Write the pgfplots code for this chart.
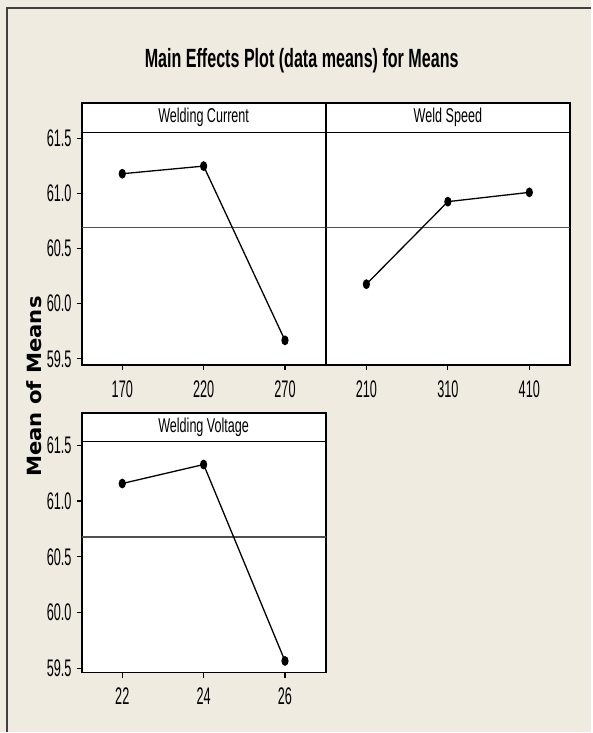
\documentclass[border=0pt]{standalone}
\usepackage{fontspec}
\setmainfont{Liberation Sans}[FakeStretch=0.53]
\newfontfamily\stripfont{Liberation Sans}[FakeStretch=0.63]
\newfontfamily\titlefont{Liberation Sans}[FakeStretch=0.61]
\newfontfamily\ylabfont{DejaVu Sans}[FakeStretch=1.08]
\usepackage{pgfplots}
\pgfplotsset{compat=1.18}
\definecolor{bgbeige}{RGB}{239,235,225}
\definecolor{meangray}{RGB}{80,80,80}

\pgfplotsset{
  mepanel/.style={
    scale only axis,
    anchor=south west,
    clip=false,
    axis background/.style={fill=white},
    axis line style={line width=0.9pt},
    xmin=-0.5, xmax=2.5,
    xtick={0,1,2},
    tick align=outside,
    major tick length=2.5pt,
    tick style={black, line width=0.6pt},
    xtick pos=bottom,
    ytick pos=left,
    ytick={59.5,60,60.5,61,61.5},
    /pgf/number format/assume math mode=true,
    /pgf/number format/fixed,
    /pgf/number format/fixed zerofill,
    /pgf/number format/precision=1,
    tick label style={font=\fontsize{12}{13}\selectfont},
    yticklabel style={xshift=1pt},
    xticklabel style={yshift=-1.5pt},
  },
  meline/.style={black, line width=0.65pt, mark=*, mark size=2.1pt,
    mark options={xscale=0.7, fill=black, solid}},
  meanline/.style={meangray, line width=0.8pt, no marks},
}

\begin{document}
\begin{tikzpicture}
\fill[bgbeige] (0,0) rectangle (296pt,366.5pt);
\draw[black!75, line width=0.8pt] (3.5pt,0) -- (3.5pt,362.5pt) -- (296pt,362.5pt);

\node[font=\titlefont\bfseries\fontsize{13.2}{15}\selectfont] at (151pt,336pt) {Main Effects Plot (data means) for Means};

\node[rotate=90, font=\ylabfont\bfseries\fontsize{9.8}{12}\selectfont] at (17.3pt,173pt) {Mean of Means};

% Panel 1: Welding Current
\begin{axis}[mepanel, at={(40.85pt,183.65pt)}, width=122.15pt, height=116.5pt,
  ymin=59.442, ymax=61.551, xticklabels={170,220,270}]
\addplot[meanline] coordinates {(-0.5,60.69) (2.5,60.69)};
\addplot[meline] coordinates {(0,61.178) (1,61.247) (2,59.668)};
\draw[fill=white, line width=0.9pt] (rel axis cs:0,1) rectangle ([yshift=14.85pt]rel axis cs:1,1);
\node[font=\stripfont\fontsize{10}{11}\selectfont] at ([yshift=7.6pt]rel axis cs:0.5,1) {Welding Current};
\end{axis}

% Panel 2: Weld Speed
\begin{axis}[mepanel, at={(163pt,183.65pt)}, width=122.35pt, height=116.5pt,
  ymin=59.442, ymax=61.551, xticklabels={210,310,410}, ytick=\empty]
\addplot[meanline] coordinates {(-0.5,60.69) (2.5,60.69)};
\addplot[meline] coordinates {(0,60.177) (1,60.925) (2,61.009)};
\draw[fill=white, line width=0.9pt] (rel axis cs:0,1) rectangle ([yshift=14.85pt]rel axis cs:1,1);
\node[font=\stripfont\fontsize{10}{11}\selectfont] at ([yshift=7.6pt]rel axis cs:0.5,1) {Weld Speed};
\end{axis}

% Panel 3: Welding Voltage
\begin{axis}[mepanel, at={(40.85pt,29.85pt)}, width=122.15pt, height=115.65pt,
  ymin=59.464, ymax=61.533, xticklabels={22,24,26}]
\addplot[meanline] coordinates {(-0.5,60.68) (2.5,60.68)};
\addplot[meline] coordinates {(0,61.157) (1,61.327) (2,59.568)};
\draw[fill=white, line width=0.9pt] (rel axis cs:0,1) rectangle ([yshift=14.35pt]rel axis cs:1,1);
\node[font=\stripfont\fontsize{10}{11}\selectfont] at ([yshift=7.3pt]rel axis cs:0.5,1) {Welding Voltage};
\end{axis}
\end{tikzpicture}
\end{document}
